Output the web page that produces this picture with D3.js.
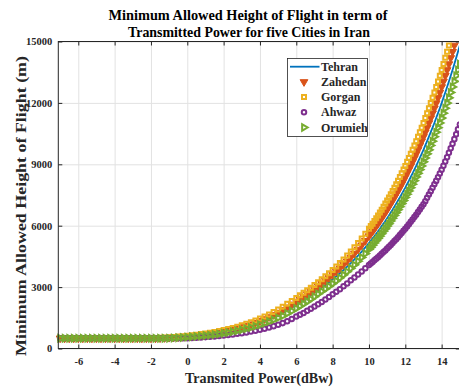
<!DOCTYPE html>
<html>
<head>
<meta charset="utf-8">
<script src="https://cdn.jsdelivr.net/npm/d3@7"></script>
<style>
  body { margin: 0; background: #fff; }
  text { font-family: "Liberation Serif", "DejaVu Serif", serif; }
</style>
</head>
<body>
<script>
// transmitted power (dBw) sample points
const power = [-7, -6.75, -6.5, -6.25, -6, -5.75, -5.5, -5.25, -5, -4.75, -4.5, -4.25, -4, -3.75, -3.5, -3.25,
  -3, -2.75, -2.5, -2.25, -2, -1.75, -1.5, -1.25, -1, -0.75, -0.5, -0.25, 0, 0.25, 0.5, 0.75, 1, 1.25, 1.5, 1.75,
  2, 2.25, 2.5, 2.75, 3, 3.25, 3.5, 3.75, 4, 4.25, 4.5, 4.75, 5, 5.25, 5.5, 5.75, 6,
  6.2, 6.4, 6.6, 6.8, 7, 7.2, 7.4, 7.6, 7.8, 8, 8.2, 8.4, 8.6, 8.8, 9, 9.2, 9.4, 9.6, 9.8, 10,
  10.1, 10.2, 10.3, 10.4, 10.5, 10.6, 10.7, 10.8, 10.9, 11, 11.1, 11.2, 11.3, 11.4, 11.5, 11.6, 11.7, 11.8, 11.9, 12,
  12.1, 12.2, 12.3, 12.4, 12.5, 12.6, 12.7, 12.8, 12.9, 13, 13.1, 13.2, 13.3, 13.4, 13.5, 13.6, 13.7, 13.8, 13.9, 14,
  14.1, 14.2, 14.3, 14.4, 14.5, 14.6, 14.7, 14.8, 14.9, 15];

// minimum allowed height (m) for each city
const tehran = [500, 500, 500, 500, 500, 500, 500, 500, 500, 500, 500, 500, 500, 500, 500, 500,
  500, 500, 500, 500, 500, 500, 500, 505, 515, 530, 544, 559, 575, 595, 616, 638, 660, 690, 722, 755,
  790, 834, 880, 929, 980, 1041, 1107, 1176, 1250, 1333, 1423, 1518, 1620, 1734, 1857, 1989, 2130,
  2238, 2352, 2472, 2597, 2730, 2849, 2973, 3103, 3239, 3380, 3526, 3678, 3836, 4002, 4174, 4354, 4542, 4738, 4942, 5155,
  5270, 5380, 5490, 5610, 5730, 5850, 5980, 6100, 6230, 6370, 6500, 6640, 6780, 6930, 7080, 7230, 7380, 7540, 7700, 7860,
  8030, 8200, 8380, 8560, 8740, 8920, 9120, 9310, 9510, 9710, 9920, 10130, 10350, 10570, 10790, 11020, 11260, 11500, 11740, 11990,
  12250, 12510, 12780, 13050, 13330, 13610, 13900, 14200, 14500, 14810];

const zahedan = [500, 500, 500, 500, 500, 500, 500, 500, 500, 500, 500, 500, 500, 500, 500, 500,
  500, 500, 500, 500, 500, 500, 507, 518, 532, 547, 562, 579, 599, 620, 642, 666, 697, 728, 762, 798,
  843, 889, 939, 992, 1054, 1120, 1191, 1266, 1351, 1441, 1538, 1642, 1758, 1883, 2016, 2157, 2294,
  2411, 2534, 2663, 2789, 2911, 3038, 3170, 3308, 3452, 3601, 3756, 3918, 4087, 4263, 4447, 4639, 4839, 5048, 5265, 5492,
  5610, 5730, 5850, 5980, 6100, 6230, 6370, 6500, 6640, 6780, 6930, 7080, 7230, 7380, 7540, 7700, 7860, 8030, 8200, 8380,
  8560, 8740, 8920, 9120, 9310, 9510, 9710, 9920, 10130, 10350, 10570, 10790, 11020, 11260, 11500, 11740, 11990, 12250, 12510, 12780,
  13050, 13330, 13610, 13900, 14200, 14500, 14810, 15130, 15450, 15780];

const gorgan = [500, 500, 500, 500, 500, 500, 500, 500, 500, 500, 500, 500, 500, 500, 500, 500,
  500, 500, 500, 500, 502, 509, 521, 535, 550, 566, 583, 604, 625, 647, 672, 703, 735, 769, 807, 852,
  899, 949, 1004, 1067, 1134, 1205, 1283, 1368, 1460, 1558, 1665, 1782, 1909, 2044, 2184, 2323, 2472,
  2597, 2730, 2849, 2973, 3103, 3239, 3380, 3526, 3678, 3836, 4002, 4174, 4354, 4542, 4738, 4942, 5155, 5377, 5609, 5851,
  5980, 6100, 6230, 6370, 6500, 6640, 6780, 6930, 7080, 7230, 7380, 7540, 7700, 7860, 8030, 8200, 8380, 8560, 8740, 8920,
  9120, 9310, 9510, 9710, 9920, 10130, 10350, 10570, 10790, 11020, 11260, 11500, 11740, 11990, 12250, 12510, 12780, 13050, 13330, 13610,
  13900, 14200, 14500, 14810, 15130, 15450, 15780, 16120, 16460, 16810];

const ahwaz = [500, 500, 500, 500, 500, 500, 500, 500, 500, 500, 500, 500, 500, 500, 500, 500,
  500, 500, 500, 500, 500, 500, 500, 500, 500, 500, 500, 500, 504, 513, 527, 541, 556, 572, 591, 612,
  633, 655, 684, 715, 749, 783, 825, 870, 919, 970, 1029, 1093, 1162, 1240, 1330, 1440, 1560,
  1650, 1740, 1840, 1940, 2050, 2160, 2270, 2390, 2520, 2650, 2770, 2900, 3040, 3180, 3330, 3470, 3610, 3760, 3920, 4080,
  4150, 4230, 4310, 4380, 4460, 4540, 4630, 4710, 4790, 4880, 4970, 5060, 5150, 5250, 5340, 5440, 5540, 5640, 5750, 5850,
  5960, 6070, 6190, 6300, 6420, 6540, 6670, 6790, 6920, 7050, 7200, 7360, 7520, 7680, 7850, 8020, 8190, 8370, 8550, 8730,
  8930, 9140, 9350, 9560, 9780, 10000, 10230, 10470, 10710, 10950];

const orumieh = [500, 500, 500, 500, 500, 500, 500, 500, 500, 500, 500, 500, 500, 500, 500, 500,
  500, 500, 500, 500, 500, 500, 500, 500, 504, 513, 527, 541, 556, 572, 591, 612, 633, 655, 684, 715,
  749, 783, 825, 870, 919, 970, 1029, 1093, 1162, 1235, 1316, 1404, 1498, 1599, 1711, 1832, 1962,
  2072, 2184, 2294, 2411, 2534, 2663, 2789, 2911, 3038, 3170, 3308, 3452, 3601, 3756, 3918, 4087, 4263, 4447, 4639, 4839,
  4940, 5050, 5160, 5270, 5380, 5490, 5610, 5730, 5850, 5980, 6100, 6230, 6370, 6500, 6640, 6780, 6930, 7080, 7230, 7380,
  7540, 7700, 7860, 8030, 8200, 8380, 8560, 8740, 8920, 9120, 9310, 9510, 9710, 9920, 10130, 10350, 10570, 10790, 11020, 11260,
  11500, 11740, 11990, 12250, 12510, 12780, 13050, 13330, 13610, 13900];

const xTicks = [-6, -4, -2, 0, 2, 4, 6, 8, 10, 12, 14];
const yTicks = [0, 3000, 6000, 9000, 12000, 15000];
const cityNames = ["Tehran", "Zahedan", "Gorgan", "Ahwaz", "Orumieh"];

const W = 459, H = 389;
const plotL = 58.3, plotR = 459.8, plotT = 41.5, plotB = 348.5;

const svg = d3.select("body").append("svg")
  .attr("width", W)
  .attr("height", H);

const x = d3.scaleLinear().domain([-7.1, 15]).range([plotL, plotR]);
const y = d3.scaleLinear().domain([0, 15000]).range([plotB, plotT]);

// grid
svg.append("g")
  .attr("transform", "translate(0," + plotB + ")")
  .call(d3.axisBottom(x).tickValues(xTicks).tickSize(-(plotB - plotT)).tickFormat(""))
  .call(g => g.select(".domain").remove())
  .selectAll("line").attr("stroke", "#e2e2e2");

svg.append("g")
  .attr("transform", "translate(" + plotL + ",0)")
  .call(d3.axisLeft(y).tickValues(yTicks).tickSize(-(plotR - plotL)).tickFormat(""))
  .call(g => g.select(".domain").remove())
  .selectAll("line").attr("stroke", "#e2e2e2");

// series
const series = [
  { name: "Tehran", values: tehran, color: "#0072BD" },
  { name: "Zahedan", values: zahedan, color: "#D95319" },
  { name: "Gorgan", values: gorgan, color: "#EDB120" },
  { name: "Ahwaz", values: ahwaz, color: "#7E2F8E" },
  { name: "Orumieh", values: orumieh, color: "#77AC30" }
];

const markerPath = {
  Zahedan: d3.symbol().type(d3.symbolTriangle).size(26)(),
  Gorgan: d3.symbol().type(d3.symbolSquare).size(16)(),
  Ahwaz: d3.symbol().type(d3.symbolCircle).size(16)(),
  Orumieh: d3.symbol().type(d3.symbolTriangle).size(18)()
};
const markerRot = { Zahedan: 180, Gorgan: 0, Ahwaz: 0, Orumieh: 90 };

function drawMarker(sel, name, color) {
  const filled = name === "Zahedan";
  sel.attr("d", markerPath[name])
    .attr("fill", filled ? color : "none")
    .attr("stroke", color)
    .attr("stroke-width", filled ? 1 : 2);
}

const line = d3.line()
  .x(d => x(d[0]))
  .y(d => y(d[1]));

svg.append("clipPath").attr("id", "plotclip")
  .append("rect").attr("x", plotL).attr("y", plotT).attr("width", plotR - plotL).attr("height", plotB - plotT);

series.forEach(s => {
  const pts = power.map((p, i) => [p, s.values[i]]);
  if (s.name === "Tehran") {
    svg.append("path")
      .datum(pts)
      .attr("clip-path", "url(#plotclip)")
      .attr("fill", "none")
      .attr("stroke", s.color)
      .attr("stroke-width", 1.8)
      .attr("d", line);
  } else {
    svg.append("g").selectAll("path")
      .data(pts.filter(d => d[1] <= 15050))
      .enter()
      .append("path")
      .attr("transform", d => "translate(" + x(d[0]) + "," + y(d[1]) + ") rotate(" + markerRot[s.name] + ")")
      .call(drawMarker, s.name, s.color);
  }
});

// axes with inward ticks
function styleAxis(g) {
  g.select(".domain").remove();
  g.selectAll("line").attr("stroke", "#262626");
  g.selectAll("text")
    .attr("fill", "#262626")
    .style("font-family", "'Liberation Serif', serif")
    .style("font-size", "10.5px")
    .style("font-weight", "bold");
}

svg.append("g")
  .attr("transform", "translate(0," + plotB + ")")
  .call(d3.axisBottom(x).tickValues(xTicks).tickSizeInner(-4).tickSizeOuter(0).tickPadding(9).tickFormat(d => String(d)))
  .call(styleAxis);

svg.append("g")
  .attr("transform", "translate(0," + plotT + ")")
  .call(d3.axisTop(x).tickValues(xTicks).tickSizeInner(-4).tickSizeOuter(0).tickFormat(""))
  .call(styleAxis);

svg.append("g")
  .attr("transform", "translate(" + plotL + ",0)")
  .call(d3.axisLeft(y).tickValues(yTicks).tickSizeInner(-4).tickSizeOuter(0).tickPadding(6).tickFormat(d => String(d)))
  .call(styleAxis);

svg.append("g")
  .attr("transform", "translate(" + plotR + ",0)")
  .call(d3.axisRight(y).tickValues(yTicks).tickSizeInner(-4).tickSizeOuter(0).tickFormat(""))
  .call(styleAxis);

svg.append("rect")
  .attr("x", plotL).attr("y", plotT)
  .attr("width", plotR - plotL).attr("height", plotB - plotT)
  .attr("fill", "none")
  .attr("stroke", "#262626")
  .attr("stroke-width", 1);

// title and labels
svg.append("text")
  .attr("x", 248).attr("y", 20)
  .attr("text-anchor", "middle")
  .attr("textLength", 279).attr("lengthAdjust", "spacingAndGlyphs")
  .style("font-size", "14px").style("font-weight", "bold")
  .text("Minimum Allowed Height of Flight in term of");

svg.append("text")
  .attr("x", 249).attr("y", 37)
  .attr("text-anchor", "middle")
  .attr("textLength", 242).attr("lengthAdjust", "spacingAndGlyphs")
  .style("font-size", "14px").style("font-weight", "bold")
  .text("Transmitted Power for five Cities in Iran");

svg.append("text")
  .attr("x", 259).attr("y", 383)
  .attr("text-anchor", "middle")
  .attr("fill", "#262626")
  .attr("textLength", 148).attr("lengthAdjust", "spacingAndGlyphs")
  .style("font-size", "15px").style("font-weight", "bold")
  .text("Transmited Power(dBw)");

svg.append("text")
  .attr("transform", "translate(26,206) rotate(-90)")
  .attr("text-anchor", "middle")
  .attr("fill", "#262626")
  .attr("textLength", 300).attr("lengthAdjust", "spacingAndGlyphs")
  .style("font-size", "15px").style("font-weight", "bold")
  .text("Minimum Allowed Height of Flight (m)");

// legend
const legend = svg.append("g");
legend.append("rect")
  .attr("x", 287.5).attr("y", 58.5)
  .attr("width", 80).attr("height", 78)
  .attr("fill", "#fff")
  .attr("stroke", "#262626")
  .attr("stroke-width", 0.8);

series.forEach((s, i) => {
  const ly = 66.7 + i * 15.2;
  if (s.name === "Tehran") {
    legend.append("line")
      .attr("x1", 290).attr("x2", 319.5)
      .attr("y1", ly).attr("y2", ly)
      .attr("stroke", s.color).attr("stroke-width", 1.8);
  } else {
    legend.append("path")
      .attr("transform", "translate(304," + ly + ") rotate(" + markerRot[s.name] + ")")
      .call(drawMarker, s.name, s.color);
  }
  legend.append("text")
    .attr("x", 321).attr("y", ly + 4)
    .attr("fill", "#262626")
    .style("font-size", "12px").style("font-weight", "bold")
    .text(cityNames[i]);
});
</script>
</body>
</html>
